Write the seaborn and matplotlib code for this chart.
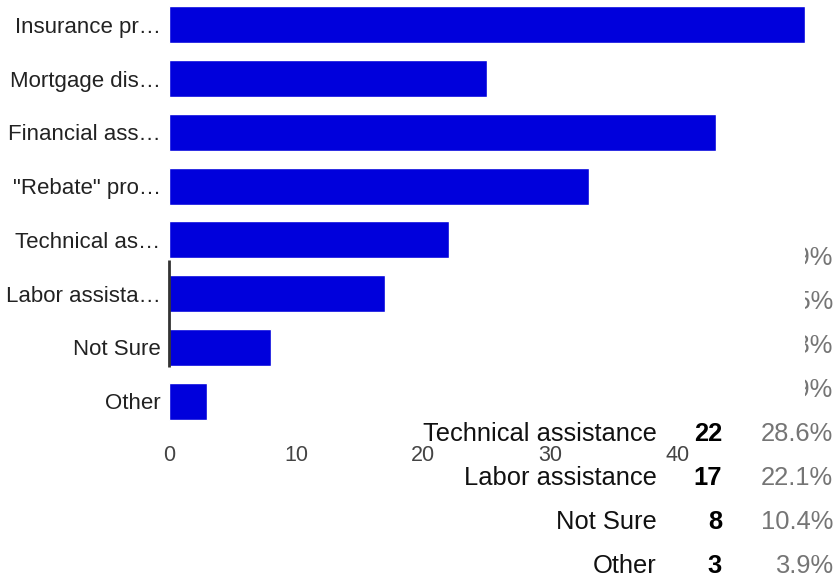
import numpy as np
import pandas as pd

import matplotlib
matplotlib.use('Agg')
import matplotlib.pyplot as plt
import seaborn as sns

# Datos
categories = ['Insurance pr…', 'Mortgage dis…', 'Financial ass…', '"Rebate" pro…',
              'Technical as…', 'Labor assista…', 'Not Sure', 'Other']
counts = [50, 25, 43, 33, 22, 17, 8, 3]
respondents = 77
# etiquetas de la tabla (las cuatro primeras filas quedan tapadas por el grafico)
table_labels = ['Insurance pr…', 'Mortgage dis…', 'Financial ass…', '"Rebate" pro…',
                'Technical assistance', 'Labor assistance', 'Not Sure', 'Other']
xticks = [0, 10, 20, 30, 40]

df = pd.DataFrame({'option': categories, 'count': counts})

sns.set_theme(style='white')
plt.rcParams['font.family'] = ['Liberation Sans', 'DejaVu Sans']

W, H = 835, 573
fig = plt.figure(figsize=(W / 100, H / 100), dpi=100)
fig.patch.set_facecolor('white')

# Ejes del grafico de barras (fondo blanco que tapa parte de la tabla)
ax = fig.add_axes([169 / W, 1 - 428 / H, 636 / W, 430 / H])
ax.set_zorder(2)
ax.set_facecolor('white')
sns.barplot(data=df, x='count', y='option', color='#0000dc', saturation=1,
            width=0.69, ax=ax)
ax.set_xlim(0, 50)
ax.set_ylim(len(categories) - 0.5, -0.5)
ax.set_xticks(xticks)
ax.set_xlabel('')
ax.set_ylabel('')
ax.tick_params(axis='x', length=0, pad=12, labelsize=15.5, labelcolor='#444444')
ax.tick_params(axis='y', length=0, pad=6, labelsize=16, labelcolor='#222222')
for s in ax.spines.values():
    s.set_visible(False)
# trozo de linea base visible
ax.plot([0, 0], [4.38, 6.36], color='#333333', lw=2, solid_capstyle='butt',
        clip_on=False)

# Tabla de resultados a la derecha
first_base, pitch = 265, 44
for i, (lab, n) in enumerate(zip(table_labels, counts)):
    yb = 1 - (first_base + i * pitch) / H
    z = 1 if i < 4 else 3
    fig.text(657 / W, yb, lab, ha='right', va='baseline', fontsize=18.4,
             color='#111111', zorder=z)
    fig.text(722 / W, yb, str(n), ha='right', va='baseline', fontsize=18.4,
             fontweight='bold', color='#000000', zorder=z)
    fig.text(833 / W, yb, f'{100 * n / respondents:.1f}%', ha='right',
             va='baseline', fontsize=18.4, color='#757575', zorder=z)

fig.savefig('out.png', dpi=100)
